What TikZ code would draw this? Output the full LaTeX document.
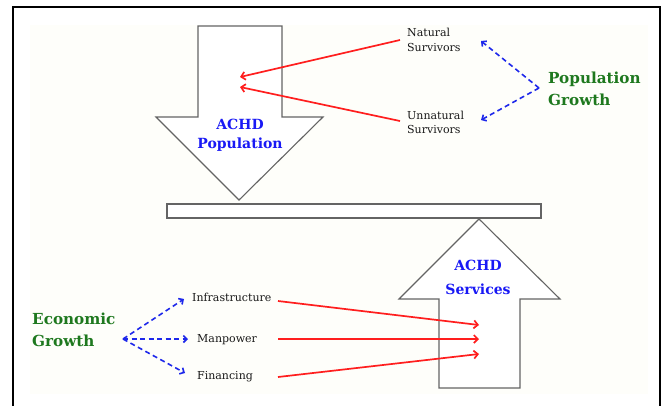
\documentclass[tikz,border=0pt]{standalone}
\usepackage{fontspec}
\setmainfont{DejaVu Serif}
\usetikzlibrary{arrows.meta}
\definecolor{redline}{RGB}{255,30,30}
\definecolor{bluedash}{RGB}{30,40,235}
\definecolor{greentxt}{RGB}{30,120,30}
\definecolor{bluetxt}{RGB}{25,25,245}
\definecolor{outlinegray}{RGB}{100,100,100}
\definecolor{smalltxt}{RGB}{25,25,25}
\definecolor{cream}{RGB}{254,254,250}
\begin{document}
\begin{tikzpicture}[x=1pt,y=-1pt,
 bigarrow/.style={draw=outlinegray, line width=1.1pt, fill=white, line join=miter},
 redarrow/.style={draw=redline, line width=1.7pt, -{Straight Barb[length=4pt,width=8pt]}},
 bluearrow/.style={draw=bluedash, line width=1.6pt, dash pattern=on 5pt off 3.5pt, -{Straight Barb[length=3.5pt,width=7pt]}},
 smalllabel/.style={inner sep=0pt, align=left, text=smalltxt, font=\fontsize{11}{15}\selectfont},
 growthlabel/.style={inner sep=0pt, align=left, text=greentxt, font=\bfseries\fontsize{15.2}{22}\selectfont},
 achdlabel/.style={inner sep=0pt, align=center, text=bluetxt, font=\bfseries\fontsize{14}{19}\selectfont},
]
\clip (0,0) rectangle (663,405);
\useasboundingbox (0,0) rectangle (663,405);
\fill[white] (0,0) rectangle (663,405);
\fill[cream] (30,25) rectangle (648,394);
\draw[black, line width=2pt] (13,420) -- (13,7) -- (660,7) -- (660,420);

% big arrows and bar
\draw[bigarrow] (198,26) -- (282,26) -- (282,117) -- (323,117) -- (239,200) -- (156,117) -- (198,117) -- cycle;
\draw[bigarrow] (167,204) rectangle (541,218);
\draw[bigarrow] (439,388) -- (520,388) -- (520,299) -- (560,299) -- (479,219) -- (399,299) -- (439,299) -- cycle;

% labels
\node[achdlabel] (pop) at (240,135) {ACHD\\Population};
\node[achdlabel, font=\bfseries\fontsize{14}{24}\selectfont] (serv) at (478,277) {ACHD\\Services};
\node[smalllabel, anchor=west] (nat) at (407,40.3) {Natural\\Survivors};
\node[smalllabel, anchor=west, font=\fontsize{11}{14}\selectfont] (unnat) at (407,122.8) {Unnatural\\Survivors};
\node[growthlabel, anchor=west] (popg) at (548,89.3) {Population\\Growth};
\node[growthlabel, anchor=west] (econ) at (32,330) {Economic\\Growth};
\node[smalllabel, anchor=base west] (infra) at (192,301) {Infrastructure};
\node[smalllabel, anchor=base west] (man) at (197,342) {Manpower};
\node[smalllabel, anchor=base west] (fin) at (197,379) {Financing};

% connector ends
\coordinate (popin1) at (240,77);
\coordinate (popin2) at (240,87);
\coordinate (servin1) at (479,325);
\coordinate (servin2) at (479,339);
\coordinate (servin3) at (479,354);
\coordinate (natout) at (400,40);
\coordinate (unnatout) at (400,121);
\coordinate (infraout) at (278,301);
\coordinate (manout) at (278,339);
\coordinate (finout) at (278,377);
\coordinate (natin) at (481,41);
\coordinate (unnatin) at (481,120);
\coordinate (pgv) at (539,88);
\coordinate (egv) at (123,339);
\coordinate (infrain) at (184,299);
\coordinate (manin) at (188,339);
\coordinate (finin) at (185,373);

% red arrows
\draw[redarrow] (natout) -- (popin1);
\draw[redarrow] (unnatout) -- (popin2);
\draw[redarrow] (infraout) -- (servin1);
\draw[redarrow] (manout) -- (servin2);
\draw[redarrow] (finout) -- (servin3);

% blue dashed arrows
\draw[bluearrow] (pgv) -- (natin);
\draw[bluearrow] (pgv) -- (unnatin);
\draw[bluearrow] (egv) -- (infrain);
\draw[bluearrow] (egv) -- (manin);
\draw[bluearrow] (egv) -- (finin);
\end{tikzpicture}
\end{document}
